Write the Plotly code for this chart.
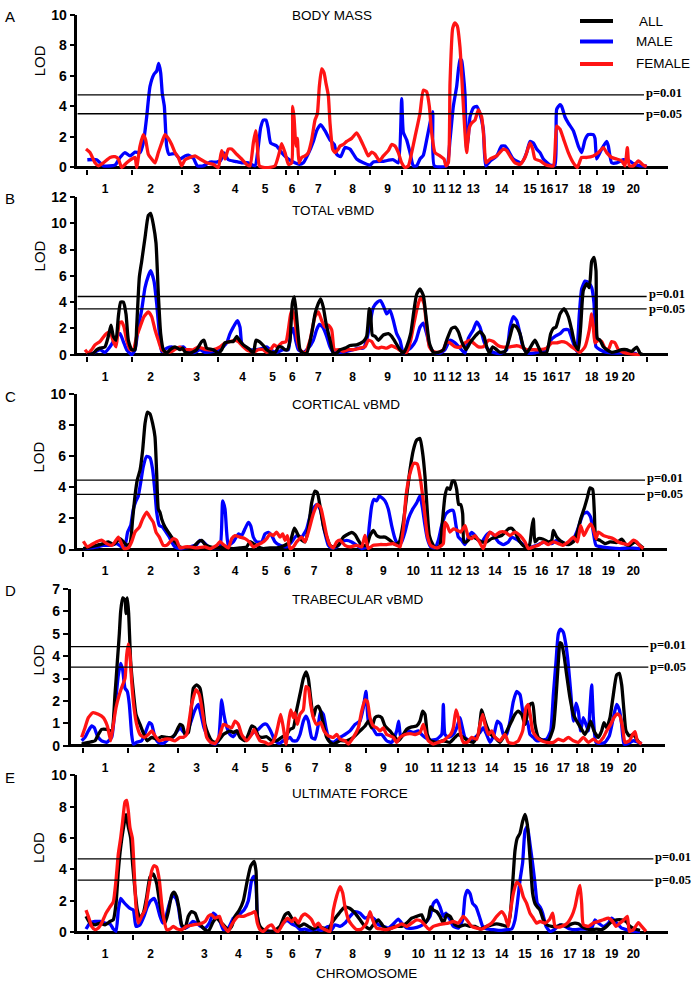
import plotly.graph_objects as go

# ---------------- DATA ----------------
# genome position (arbitrary cumulative units), LOD score
CHROM_LABELS = ["1","2","3","4","5","6","7","8","9","10","11","12","13","14","15","16","17","18","19","20"]

A_BOUNDS = [261,396,546,660,750,858,894,1005,1110,1206,1290,1344,1392,1458,1539,1614,1668,1740,1791,1869,1941]
A_LABEL_POS = [315,452,590,705,795,876,955,1058,1163,1257,1318,1365,1420,1505,1590,1640,1685,1755,1825,1900]
B_BOUNDS = [262,397,545,655,760,858,890,1000,1110,1205,1300,1345,1400,1457,1538,1612,1668,1740,1790,1868,1940]
B_LABEL_POS = [315,452,590,728,818,877,955,1058,1163,1260,1318,1365,1420,1505,1590,1648,1692,1775,1835,1885]
C_BOUNDS = [250,383,533,652,740,848,882,992,1100,1195,1285,1332,1392,1448,1528,1598,1657,1732,1777,1857,1930]
C_LABEL_POS = [315,452,590,705,795,862,942,1048,1150,1240,1310,1365,1418,1485,1560,1625,1688,1755,1825,1900]
D_BOUNDS = [250,383,533,652,735,845,880,990,1098,1195,1285,1330,1390,1445,1525,1595,1655,1730,1777,1855,1928]
D_LABEL_POS = [315,455,590,705,795,865,945,1045,1150,1235,1310,1360,1408,1475,1560,1625,1690,1748,1820,1890]
E_BOUNDS = [265,398,548,663,772,848,898,1003,1110,1208,1303,1350,1400,1455,1538,1615,1672,1742,1792,1868,1942]
E_LABEL_POS = [315,452,613,715,808,877,955,1058,1163,1255,1320,1375,1435,1505,1575,1640,1710,1765,1835,1900]

# significance thresholds [p=0.01, p=0.05]
A_THRESH = [4.74, 3.51]
B_THRESH = [4.43, 3.48]
C_THRESH = [4.46, 3.55]
D_THRESH = [4.42, 3.51]
E_THRESH = [4.67, 3.31]

A_MALE = [(262,0.5),(290,0.5),(310,0.1),(345,0.15),(360,0.65),(375,0.97),(390,0.75),(405,1.0),(420,0.97),(430,1.6),(440,3.3),(450,5.3),(462,6.1),(470,6.3),(476,6.8),(482,6.2),(487,4.8),(493,4.0),(500,1.4),(507,0.86),(525,0.9),(540,0.55),(555,0.75),(565,0.8),(580,0.6),(592,0.1),(610,0.1),(630,0.35),(650,0.35),(662,0.45),(672,0.95),(685,0.5),(705,0.4),(725,0.3),(745,0.3),(765,0.1),(775,1.4),(782,2.6),(790,3.1),(798,3.1),(804,2.6),(812,1.6),(830,1.4),(845,0.97),(862,0.6),(880,0.35),(898,0.2),(910,0.3),(925,0.9),(940,1.7),(950,2.4),(962,2.8),(975,2.4),(990,1.8),(1003,1.5),(1010,0.86),(1022,0.7),(1035,1.3),(1050,1.2),(1070,0.55),(1090,0.3),(1110,0.15),(1120,0.35),(1150,0.4),(1180,0.5),(1195,0.3),(1205,4.5),(1210,2.3),(1220,1.8),(1230,0.97),(1240,0.1),(1250,0.1),(1260,0.55),(1270,0.8),(1280,1.8),(1290,2.9),(1298,3.65),(1303,0.1),(1340,0.1),(1350,1.8),(1360,4.0),(1370,5.3),(1380,7.1),(1385,7.0),(1390,6.1),(1395,4.8),(1400,1.2),(1405,2.0),(1410,3.3),(1420,3.9),(1430,4.0),(1440,3.5),(1450,2.5),(1457,0.1),(1470,0.4),(1490,0.75),(1505,1.4),(1515,1.4),(1525,1.1),(1540,0.55),(1565,0.3),(1580,0.97),(1590,1.7),(1600,1.6),(1610,1.2),(1620,0.97),(1630,0.55),(1650,0.15),(1665,0.15),(1670,3.8),(1680,4.1),(1685,4.0),(1695,3.3),(1705,2.9),(1720,2.4),(1735,1.4),(1745,0.97),(1755,1.8),(1765,2.15),(1780,2.15),(1785,1.9),(1790,0.55),(1805,1.2),(1820,1.7),(1825,1.4),(1835,0.3),(1850,0.3),(1870,0.5),(1890,0.4),(1900,0.25),(1920,0.1),(1940,0.1)]

A_FEMALE = [(258,1.2),(270,0.97),(285,0.3),(295,0.1),(310,0.3),(330,0.65),(345,0.7),(355,0.55),(365,0.0),(380,0.3),(395,0.55),(405,0.65),(410,0.0),(420,1.4),(430,2.15),(437,1.8),(445,0.86),(455,0.55),(465,0.3),(475,0.97),(485,1.6),(495,2.15),(505,1.9),(515,1.5),(525,0.97),(535,0.65),(545,0.1),(555,0.5),(570,0.65),(585,0.75),(600,0.55),(620,0.3),(640,0.2),(655,0.0),(665,1.1),(675,0.55),(685,1.2),(695,1.2),(710,0.86),(725,0.55),(740,0.2),(750,0.1),(760,1.6),(767,2.4),(772,1.4),(778,0.1),(790,0.0),(810,0.0),(825,0.1),(838,0.97),(845,1.55),(855,0.97),(865,0.2),(875,0.3),(878,4.0),(882,3.3),(888,1.4),(892,1.9),(897,0.3),(905,0.65),(915,0.75),(925,0.97),(935,1.8),(945,3.1),(952,3.5),(958,5.3),(965,6.45),(972,6.2),(978,5.5),(985,4.7),(990,2.9),(998,1.2),(1005,0.97),(1015,1.2),(1020,1.4),(1030,1.5),(1040,1.7),(1055,1.9),(1070,2.26),(1080,1.9),(1095,1.2),(1105,0.75),(1115,1.0),(1125,0.86),(1138,0.43),(1150,0.75),(1165,1.1),(1175,1.5),(1185,1.4),(1195,0.97),(1205,0.3),(1215,0.0),(1225,0.1),(1235,0.97),(1245,2.0),(1260,3.55),(1270,5.05),(1280,4.95),(1288,4.0),(1295,2.26),(1305,0.97),(1320,0.75),(1332,0.55),(1338,0.1),(1345,0.3),(1350,5.5),(1358,9.1),(1365,9.46),(1372,9.25),(1380,7.85),(1388,4.84),(1395,2.26),(1400,0.97),(1408,2.6),(1415,2.9),(1425,3.1),(1435,3.76),(1445,3.3),(1452,1.8),(1458,0.3),(1470,0.55),(1490,0.75),(1510,1.2),(1520,1.1),(1530,0.75),(1545,0.3),(1560,0.2),(1575,0.65),(1590,1.6),(1598,1.2),(1605,0.55),(1620,0.43),(1640,0.15),(1660,0.1),(1670,2.7),(1680,2.5),(1690,1.9),(1705,0.97),(1720,0.3),(1732,0.0),(1745,0.65),(1760,0.65),(1780,0.75),(1795,0.97),(1810,1.3),(1820,0.97),(1835,0.65),(1850,0.55),(1865,0.43),(1875,0.1),(1882,1.3),(1888,0.1),(1900,0.1),(1915,0.43),(1930,0.15),(1940,0.05)]

B_ALL = [(262,0),(280,0.1),(290,0.38),(300,0.5),(315,0.6),(325,1.4),(333,2.25),(340,1.4),(348,1.1),(355,2.9),(362,4.0),(370,4.0),(378,3.1),(385,1.1),(395,0.38),(405,0.38),(410,2.1),(418,5.9),(425,7.1),(435,8.9),(445,10.6),(452,10.75),(460,9.9),(468,8.5),(475,4.6),(482,1.6),(490,0.38),(500,0.12),(510,0.38),(525,0.6),(540,0.38),(548,0.5),(555,0.2),(570,0.12),(590,0.38),(605,1.0),(612,1.1),(620,0.5),(640,0.38),(655,0.1),(665,0.38),(675,0.9),(690,1.0),(700,1.0),(710,1.4),(718,1.1),(730,0.75),(750,0.38),(760,0.1),(768,1.1),(778,1.0),(790,0.7),(800,0.38),(815,0.18),(825,0.12),(835,0.58),(845,0.58),(855,0.38),(862,0.38),(870,1.1),(877,3.9),(883,4.4),(889,3.1),(895,1.4),(900,0.38),(910,0.12),(920,0.1),(935,1.6),(945,3.1),(955,3.9),(962,4.25),(970,3.6),(978,2.4),(990,1.1),(1000,0.1),(1010,0.12),(1020,0.38),(1035,0.5),(1050,0.7),(1070,0.75),(1090,1.0),(1100,1.4),(1108,3.5),(1112,3.1),(1117,1.5),(1125,1.4),(1135,1.1),(1150,1.5),(1165,1.6),(1175,1.4),(1185,1.0),(1200,0.38),(1210,0.12),(1220,0.6),(1232,1.6),(1242,3.4),(1250,4.6),(1260,5.0),(1270,4.5),(1278,2.9),(1288,0.9),(1300,0.18),(1315,0.18),(1330,0.38),(1340,1.1),(1355,2.0),(1365,2.1),(1375,1.75),(1385,1.0),(1398,0.38),(1410,0.9),(1425,1.4),(1440,1.75),(1452,1.4),(1460,0.6),(1468,0.12),(1478,0.6),(1490,0.38),(1500,0.18),(1515,0.25),(1530,1.4),(1540,2.25),(1550,2.1),(1560,1.6),(1570,0.6),(1580,0.12),(1592,0.6),(1605,1.1),(1615,0.6),(1625,0.12),(1640,0.18),(1652,1.6),(1660,2.0),(1668,2.1),(1680,3.1),(1692,3.5),(1705,2.9),(1715,1.9),(1725,0.75),(1735,0.38),(1742,2.1),(1750,4.9),(1760,5.4),(1768,5.1),(1775,7.1),(1782,7.4),(1788,6.4),(1792,1.25),(1800,1.1),(1810,0.6),(1820,0.38),(1835,0.18),(1850,0.25),(1865,0.38),(1880,0.38),(1895,0.25),(1910,0.58),(1920,0.12),(1930,0.0)]

B_MALE = [(262,0),(280,0.12),(300,0.38),(315,0.18),(330,0.6),(350,1.4),(360,1.6),(370,1.0),(380,0.38),(395,0),(405,0.38),(415,2.1),(425,3.4),(435,5.1),(445,6.0),(452,6.4),(462,5.6),(470,3.9),(478,1.6),(485,0.25),(500,0.5),(515,0.6),(530,0.5),(550,0.6),(565,0.18),(585,0.18),(600,0.38),(615,0.18),(640,0.25),(660,0.38),(680,0.9),(690,1.6),(700,2.1),(712,2.6),(720,2.1),(725,0.9),(735,0.6),(750,0.38),(770,0.38),(790,0.5),(800,0.6),(810,0.38),(830,0.18),(850,0.38),(865,0.38),(872,1.6),(880,2.0),(887,1.1),(895,0.38),(910,0.18),(925,0.5),(940,1.1),(950,1.9),(958,2.3),(968,2.1),(980,1.4),(990,0.6),(1000,0.18),(1020,0.18),(1040,0.25),(1060,0.38),(1075,0.5),(1090,0.5),(1100,1.1),(1110,2.4),(1120,3.6),(1132,4.0),(1142,4.1),(1152,3.6),(1160,3.1),(1170,3.4),(1180,2.6),(1190,1.6),(1200,1.1),(1210,0.12),(1225,0.38),(1235,0.6),(1248,1.1),(1260,2.1),(1270,2.4),(1280,1.6),(1290,0.6),(1302,0.18),(1320,0.12),(1335,0.38),(1350,1.1),(1365,0.9),(1380,0.5),(1395,0.12),(1405,1.25),(1420,1.9),(1430,2.5),(1440,2.1),(1452,1.0),(1465,0.38),(1480,0.18),(1500,0.08),(1520,0.38),(1530,2.1),(1540,2.9),(1550,2.6),(1560,1.6),(1570,0.5),(1585,0.12),(1600,0.12),(1620,0.25),(1640,0.38),(1652,1.1),(1665,1.4),(1680,1.6),(1692,1.9),(1705,1.9),(1720,0.9),(1730,0.25),(1738,3.1),(1745,5.0),(1755,5.6),(1765,5.5),(1775,5.1),(1782,3.9),(1788,0.6),(1800,0.38),(1820,0.18),(1850,0.12),(1880,0.18),(1910,0.08)]

B_FEMALE = [(255,0.38),(265,0.12),(275,0.38),(285,0.75),(300,1.0),(315,1.5),(330,1.75),(340,1.0),(348,0.6),(358,2.4),(365,2.5),(372,2.1),(380,1.1),(390,0.38),(400,0.38),(410,1.4),(420,2.1),(432,2.9),(445,3.25),(455,2.9),(465,1.9),(475,1.1),(485,0.38),(500,0.18),(515,0.25),(530,0.5),(540,0.58),(550,0.38),(565,0.38),(580,0.38),(595,0.6),(605,0.5),(620,0.38),(640,0.38),(660,0.6),(675,0.9),(690,1.0),(705,1.1),(715,1.0),(730,0.6),(740,0.38),(760,0.18),(775,0.38),(790,0.38),(800,0.18),(812,0.38),(822,0.75),(832,0.6),(845,0.9),(858,1.0),(865,1.9),(872,3.1),(878,3.4),(885,2.6),(892,1.1),(900,0.38),(915,0.12),(930,1.1),(945,2.9),(955,3.25),(965,2.6),(975,2.1),(985,2.25),(995,1.9),(1003,0.38),(1015,0.38),(1030,0.25),(1045,0.38),(1060,0.38),(1080,0.5),(1095,0.6),(1105,1.1),(1115,1.0),(1125,0.6),(1135,0.5),(1145,0.58),(1160,0.5),(1175,0.68),(1190,0.5),(1205,0.25),(1220,0.18),(1232,1.1),(1242,2.4),(1252,3.6),(1262,4.4),(1272,3.9),(1280,2.1),(1288,0.6),(1300,0.25),(1315,0.18),(1330,0.38),(1340,1.0),(1350,0.9),(1365,0.6),(1380,0.58),(1395,0.9),(1410,1.1),(1420,0.9),(1435,0.6),(1450,0.6),(1465,1.1),(1480,1.0),(1495,0.68),(1510,0.58),(1530,0.6),(1550,0.68),(1565,0.58),(1580,0.38),(1600,0.38),(1620,0.38),(1640,0.5),(1655,0.9),(1670,0.9),(1685,1.0),(1700,0.9),(1715,0.6),(1728,0.38),(1740,0.18),(1755,0.6),(1768,1.9),(1775,3.1),(1780,2.1),(1785,0.9),(1795,1.1),(1805,1.0),(1815,0.5),(1825,0.38),(1835,1.0),(1845,0.9),(1855,0.38),(1870,0.18),(1890,0.08),(1920,0.0)]

C_ALL = [(250,0.06),(270,0.17),(290,0.27),(310,0.38),(325,0.49),(340,0.32),(350,0.5),(360,0.7),(370,0.5),(380,0.27),(390,0.38),(398,1.97),(405,3.45),(412,4.5),(420,5.1),(428,6.4),(435,8.1),(442,8.84),(450,8.73),(458,8.1),(465,7.25),(470,4.9),(475,2.6),(480,2.4),(485,1.97),(495,1.44),(505,1.12),(515,0.8),(525,0.49),(540,0.17),(560,0.1),(580,0.17),(595,0.5),(605,0.59),(615,0.32),(630,0.17),(650,0.1),(665,0.17),(680,0.1),(700,0.06),(720,0.1),(740,0.17),(750,0.5),(760,0.38),(775,0.17),(790,0.06),(810,0.1),(830,0.1),(850,0.23),(870,0.49),(883,1.37),(890,1.12),(900,0.7),(915,0.49),(925,1.33),(935,3.0),(945,3.76),(952,3.66),(960,2.8),(970,1.54),(980,0.8),(990,0.27),(1000,0.17),(1015,0.27),(1030,0.8),(1045,1.0),(1055,1.1),(1065,0.95),(1075,0.59),(1085,0.27),(1100,0.27),(1110,0.9),(1120,1.23),(1130,0.9),(1140,0.8),(1155,0.8),(1170,0.59),(1185,0.32),(1198,0.49),(1210,1.75),(1220,3.45),(1230,5.14),(1240,6.4),(1250,7.04),(1260,7.15),(1268,6.2),(1275,4.7),(1282,2.4),(1288,0.9),(1300,0.27),(1310,0.06),(1320,0.27),(1328,1.97),(1335,3.45),(1342,3.97),(1350,3.87),(1357,4.4),(1363,4.4),(1370,3.87),(1376,2.9),(1382,2.9),(1388,2.3),(1392,0.5),(1400,0.5),(1415,0.8),(1430,0.7),(1445,0.49),(1460,0.49),(1475,0.7),(1490,0.8),(1505,0.9),(1515,1.1),(1525,1.33),(1535,1.37),(1545,1.12),(1560,0.49),(1575,0.17),(1588,0.27),(1595,1.33),(1600,1.97),(1605,0.49),(1615,0.7),(1630,0.66),(1645,0.49),(1655,0.59),(1660,1.23),(1670,0.8),(1685,0.49),(1705,0.32),(1720,0.49),(1732,1.1),(1742,1.97),(1752,2.6),(1762,3.34),(1770,3.97),(1778,3.87),(1783,2.4),(1788,0.7),(1800,0.59),(1815,0.38),(1830,0.49),(1850,0.45),(1865,0.66),(1878,0.32),(1890,0.27),(1905,0.49),(1920,0.27),(1930,0.1)]

C_MALE = [(250,0.06),(270,0.1),(290,0.17),(310,0.27),(330,0.27),(350,0.38),(365,0.17),(375,0.27),(383,1.12),(392,1.54),(400,2.6),(408,3.13),(415,3.45),(422,4.3),(430,5.35),(440,6.0),(450,5.9),(458,5.14),(465,3.66),(470,2.4),(478,1.54),(488,1.44),(498,1.12),(508,0.8),(515,0.49),(525,0.17),(540,0.06),(560,0.1),(590,0.32),(600,0.59),(610,0.49),(625,0.17),(645,0.1),(660,0.17),(668,3.13),(675,2.6),(680,1.12),(685,0.27),(700,0.49),(715,1.0),(725,0.9),(735,1.33),(745,1.75),(752,1.54),(760,0.8),(770,0.49),(785,0.49),(795,1.0),(805,1.1),(815,0.9),(825,0.49),(840,0.27),(860,0.17),(875,0.49),(890,0.9),(905,0.8),(920,1.33),(932,2.3),(945,2.8),(952,2.9),(962,2.5),(972,1.33),(985,0.27),(995,0.1),(1010,0.17),(1025,0.49),(1040,0.59),(1055,0.49),(1070,0.27),(1085,0.06),(1100,0.17),(1108,1.54),(1115,2.8),(1122,3.23),(1130,3.13),(1138,3.45),(1145,3.34),(1155,3.13),(1165,2.6),(1175,1.54),(1185,0.7),(1195,0.27),(1205,0.49),(1215,1.12),(1225,1.97),(1238,2.6),(1250,3.0),(1260,3.45),(1268,2.6),(1275,1.54),(1282,0.7),(1292,0.17),(1305,0.1),(1315,0.59),(1325,1.54),(1338,2.3),(1350,2.5),(1360,2.5),(1368,1.54),(1375,0.8),(1385,0.59),(1395,0.32),(1405,0.8),(1415,1.1),(1425,0.9),(1435,0.59),(1445,0.49),(1458,0.9),(1470,1.1),(1480,0.95),(1495,0.49),(1510,0.32),(1525,0.49),(1535,0.8),(1545,0.7),(1560,0.49),(1575,0.23),(1595,0.17),(1615,0.32),(1635,0.49),(1655,0.38),(1670,0.59),(1685,0.49),(1700,0.32),(1715,0.49),(1730,1.12),(1740,1.75),(1750,2.3),(1762,2.4),(1772,2.07),(1780,1.12),(1788,0.27),(1805,0.17),(1830,0.1),(1860,0.06),(1890,0.1),(1920,0.06)]

C_FEMALE = [(250,0.53),(262,0.17),(275,0.32),(290,0.5),(305,0.6),(320,0.38),(335,0.27),(345,0.5),(355,0.8),(362,0.5),(372,0.06),(385,0.1),(395,0.5),(405,1.12),(418,1.44),(428,1.97),(440,2.4),(450,2.07),(460,1.75),(468,1.12),(478,0.8),(490,0.27),(500,0.27),(510,0.49),(520,0.7),(530,0.59),(540,0.1),(555,0.17),(570,0.17),(590,0.1),(615,0.17),(630,0.06),(650,0.27),(660,0.5),(670,0.32),(685,0.1),(695,0.7),(705,0.9),(720,0.8),(735,0.7),(748,0.49),(760,0.17),(775,0.32),(790,0.49),(800,0.7),(810,1.0),(820,0.9),(830,1.12),(840,0.8),(848,1.0),(855,0.59),(862,0.9),(870,0.06),(880,0.17),(890,0.49),(905,0.8),(915,0.49),(925,1.12),(940,2.3),(952,2.9),(962,2.7),(970,1.97),(980,0.9),(990,0.27),(1000,0.1),(1010,0.49),(1020,0.6),(1035,0.27),(1050,0.17),(1070,0.27),(1085,0.17),(1095,0.9),(1105,0.06),(1120,0.27),(1140,0.32),(1160,0.32),(1180,0.38),(1190,0.27),(1200,0.17),(1210,1.33),(1218,3.45),(1230,4.9),(1242,5.56),(1252,5.5),(1260,4.7),(1268,3.45),(1276,1.97),(1282,0.9),(1292,0.27),(1310,0.1),(1325,0.27),(1330,0.38),(1335,1.75),(1342,1.54),(1350,1.12),(1360,1.33),(1372,1.23),(1382,1.12),(1395,1.54),(1405,0.8),(1415,0.7),(1425,0.9),(1438,0.49),(1450,0.06),(1460,0.7),(1470,1.12),(1485,0.9),(1500,1.12),(1515,1.12),(1530,0.9),(1545,1.12),(1560,0.9),(1575,0.49),(1585,0.06),(1600,0.17),(1615,0.27),(1630,0.49),(1645,0.32),(1660,0.49),(1675,0.38),(1688,0.27),(1705,0.49),(1720,0.8),(1732,0.49),(1742,1.54),(1752,0.9),(1762,1.33),(1772,1.65),(1780,1.33),(1788,0.7),(1795,1.12),(1810,0.9),(1825,0.8),(1840,0.7),(1855,0.49),(1870,0.38),(1885,0.32),(1900,0.6),(1910,0.49),(1920,0.23),(1930,0.06)]

D_ALL = [(245,0.07),(265,0.15),(285,0.22),(295,0.5),(305,0.73),(320,0.73),(335,0.66),(345,2.3),(352,3.75),(358,5.0),(362,6.0),(368,6.6),(375,6.5),(378,5.9),(382,6.6),(386,5.9),(392,3.75),(400,2.42),(408,1.4),(420,0.95),(432,0.5),(442,0.22),(455,0.37),(470,0.29),(485,0.4),(500,0.37),(515,0.37),(525,0.5),(540,0.95),(548,0.88),(555,0.5),(565,0.59),(572,1.25),(580,2.57),(590,2.72),(600,2.57),(608,1.84),(615,0.95),(625,0.5),(635,0.22),(645,0.15),(655,0.22),(670,0.5),(680,0.59),(690,0.66),(700,0.59),(710,0.66),(720,0.37),(735,0.22),(745,0.5),(755,0.88),(765,0.8),(775,0.44),(785,0.37),(800,0.4),(815,0.22),(830,0.22),(845,0.37),(860,0.5),(870,0.73),(880,0.8),(890,1.6),(900,2.3),(910,3.0),(918,3.3),(925,3.0),(932,2.13),(940,1.25),(948,1.7),(955,1.76),(962,1.54),(970,0.95),(980,0.37),(990,0.15),(1000,0.07),(1020,0.22),(1040,0.22),(1060,0.37),(1080,0.66),(1095,0.88),(1105,1.1),(1115,0.8),(1125,1.25),(1135,1.32),(1145,1.25),(1155,0.88),(1170,0.66),(1185,0.37),(1195,0.22),(1210,0.5),(1220,0.73),(1235,0.84),(1250,0.88),(1260,1.1),(1268,1.54),(1275,1.4),(1282,0.5),(1292,0.22),(1310,0.15),(1330,0.22),(1350,0.15),(1365,0.37),(1375,0.5),(1390,0.37),(1405,0.22),(1420,0.15),(1435,0.5),(1445,1.6),(1452,1.25),(1460,0.88),(1472,0.5),(1485,0.37),(1500,0.15),(1515,0.5),(1525,0.8),(1535,1.1),(1545,1.4),(1555,1.54),(1565,1.4),(1575,0.95),(1582,1.4),(1590,1.84),(1598,1.9),(1605,0.95),(1615,0.37),(1630,0.22),(1645,0.22),(1660,0.8),(1668,2.13),(1675,3.75),(1680,4.6),(1685,4.55),(1692,4.04),(1700,3.16),(1710,2.13),(1720,1.4),(1730,1.1),(1742,0.8),(1755,0.5),(1765,0.8),(1772,1.1),(1782,0.66),(1795,0.37),(1805,0.66),(1812,1.03),(1820,0.8),(1830,1.25),(1840,2.28),(1850,3.16),(1858,3.23),(1865,2.72),(1872,1.54),(1878,0.66),(1888,0.44),(1900,0.5),(1910,0.29),(1920,0.1)]

D_MALE = [(245,0.22),(255,0.37),(265,0.66),(275,0.88),(283,0.8),(292,0.44),(305,0.22),(320,0.15),(335,0.37),(345,1.7),(355,3.16),(362,3.67),(368,3.38),(375,2.57),(382,2.42),(388,1.84),(395,0.5),(400,0.07),(410,0.15),(425,0.22),(438,0.66),(448,1.03),(455,0.95),(465,0.37),(475,0.15),(490,0.1),(505,0.29),(520,0.4),(532,0.66),(540,0.8),(548,0.66),(558,0.5),(570,0.95),(585,1.6),(595,1.84),(605,1.25),(612,0.8),(622,0.44),(632,0.15),(645,0.07),(655,0.22),(665,2.05),(670,1.54),(678,0.95),(690,0.5),(700,0.4),(712,0.66),(722,0.5),(735,0.29),(750,0.44),(760,0.59),(775,0.73),(790,0.95),(800,0.95),(812,0.66),(825,0.22),(838,0.1),(850,0.22),(860,0.29),(870,0.37),(878,0.22),(890,0.22),(900,0.5),(910,1.1),(918,1.32),(925,1.1),(935,0.37),(945,0.29),(955,0.95),(962,1.54),(970,1.4),(978,0.8),(988,0.22),(1000,0.15),(1020,0.37),(1035,0.5),(1050,0.66),(1065,0.95),(1080,1.1),(1090,1.7),(1098,2.42),(1105,1.1),(1115,0.88),(1130,0.5),(1145,0.5),(1160,0.22),(1175,0.15),(1190,0.66),(1196,1.1),(1202,0.37),(1210,0.5),(1225,0.66),(1240,0.59),(1255,0.66),(1265,0.5),(1275,0.37),(1290,0.25),(1310,0.29),(1325,0.5),(1330,1.84),(1335,0.5),(1345,0.37),(1360,0.5),(1370,0.8),(1380,1.25),(1386,0.88),(1395,0.37),(1410,0.22),(1425,0.37),(1440,0.59),(1450,0.8),(1460,0.5),(1470,0.15),(1482,0.5),(1492,1.1),(1502,0.95),(1510,0.5),(1520,0.5),(1530,1.1),(1540,1.98),(1550,2.42),(1560,2.28),(1568,1.54),(1575,0.95),(1582,1.1),(1590,0.5),(1600,0.37),(1610,0.22),(1625,0.25),(1640,0.29),(1652,0.66),(1660,2.28),(1668,3.75),(1675,5.0),(1682,5.2),(1690,5.07),(1698,4.48),(1705,3.6),(1712,2.42),(1720,1.1),(1728,1.9),(1735,1.54),(1742,0.66),(1750,1.25),(1758,0.95),(1765,0.66),(1770,1.7),(1775,2.72),(1780,1.25),(1788,0.15),(1800,0.1),(1815,0.15),(1828,0.44),(1840,1.25),(1850,1.84),(1858,1.6),(1865,0.95),(1872,0.07),(1885,0.1),(1900,0.22),(1915,0.15),(1925,0.1)]

D_FEMALE = [(245,0.37),(255,0.8),(265,1.25),(278,1.47),(295,1.4),(310,1.25),(322,0.88),(332,0.22),(340,0.95),(348,1.7),(358,2.28),(368,2.72),(375,3.0),(380,4.04),(385,4.55),(390,4.04),(395,2.86),(402,1.7),(410,0.95),(420,0.5),(432,0.37),(445,0.5),(455,0.66),(465,0.44),(478,0.22),(495,0.29),(510,0.29),(525,0.22),(540,0.37),(550,0.37),(560,0.5),(575,1.84),(588,2.5),(598,2.28),(610,1.25),(620,0.37),(632,0.15),(645,0.1),(660,0.5),(670,0.95),(682,0.88),(695,0.8),(705,1.1),(715,0.95),(725,0.5),(740,0.22),(755,0.5),(762,0.73),(770,0.5),(780,0.22),(795,0.15),(805,0.07),(818,0.15),(828,0.5),(835,0.95),(842,1.4),(850,0.8),(858,0.07),(865,0.95),(872,1.6),(880,1.25),(885,1.47),(892,0.95),(900,1.4),(910,1.6),(918,2.64),(925,2.57),(932,1.84),(940,1.25),(950,0.95),(962,1.03),(972,0.66),(985,0.44),(1000,0.37),(1010,0.5),(1020,0.29),(1035,0.22),(1045,0.07),(1060,0.37),(1075,0.8),(1085,1.54),(1095,2.05),(1102,1.98),(1110,1.25),(1120,0.88),(1130,0.8),(1140,0.66),(1150,0.8),(1160,0.5),(1170,0.44),(1180,0.37),(1190,0.15),(1200,0.37),(1215,0.5),(1230,0.54),(1245,0.5),(1260,0.59),(1270,0.95),(1278,0.5),(1285,0.22),(1300,0.07),(1315,0.15),(1330,0.22),(1342,0.37),(1352,0.5),(1360,0.8),(1368,1.6),(1375,1.25),(1382,0.5),(1390,0.15),(1402,0.15),(1415,0.37),(1430,0.29),(1440,0.95),(1448,1.4),(1455,0.95),(1465,0.5),(1475,0.66),(1485,0.37),(1500,0.22),(1515,0.5),(1525,0.15),(1540,0.1),(1555,0.22),(1568,0.66),(1578,1.7),(1585,1.84),(1592,1.25),(1598,0.66),(1610,0.37),(1625,0.22),(1640,0.15),(1660,0.15),(1675,0.29),(1690,0.22),(1705,0.37),(1720,0.22),(1735,0.15),(1750,0.37),(1765,0.15),(1780,0.29),(1795,0.15),(1810,0.37),(1820,0.66),(1832,0.95),(1842,1.25),(1852,1.42),(1860,1.32),(1868,0.8),(1875,0.15),(1888,0.22),(1898,0.5),(1905,0.63),(1912,0.22),(1925,0.07)]

E_ALL = [(258,1.0),(270,0.57),(285,0.46),(300,0.57),(315,0.46),(330,0.67),(340,0.78),(348,1.8),(355,3.9),(362,5.4),(370,6.6),(378,7.5),(385,6.7),(392,6.0),(398,4.3),(405,2.66),(412,1.4),(420,0.88),(430,1.2),(440,2.24),(450,3.5),(460,3.7),(470,3.1),(478,2.0),(485,1.2),(495,0.57),(505,1.3),(515,2.35),(522,2.55),(530,2.24),(538,1.4),(545,0.46),(555,0.25),(565,1.0),(575,1.3),(585,1.2),(595,0.67),(605,0.36),(615,0.15),(625,0.04),(640,0.67),(650,0.88),(660,0.67),(670,0.46),(685,0.15),(695,0.36),(705,1.0),(718,1.4),(730,2.0),(742,3.3),(752,4.2),(762,4.5),(768,3.9),(772,1.0),(780,0.36),(790,0.15),(800,0.08),(820,0.04),(840,0.36),(855,1.1),(865,1.24),(875,0.88),(885,0.67),(898,0.36),(912,0.52),(925,0.36),(940,0.19),(955,0.36),(970,0.25),(985,0.1),(995,0.57),(1010,1.0),(1025,1.4),(1035,1.6),(1050,1.5),(1065,1.2),(1080,0.78),(1095,0.36),(1110,0.19),(1120,0.46),(1135,0.78),(1150,0.36),(1165,0.15),(1185,0.36),(1205,0.36),(1220,0.57),(1235,0.88),(1250,1.0),(1265,1.1),(1275,0.57),(1285,0.88),(1292,1.6),(1300,1.4),(1310,1.3),(1320,1.0),(1330,0.57),(1340,1.1),(1350,1.0),(1365,0.46),(1380,0.36),(1395,0.46),(1410,0.36),(1425,0.36),(1440,0.19),(1460,0.36),(1475,0.46),(1490,0.52),(1505,0.46),(1520,0.36),(1530,1.0),(1538,3.1),(1545,5.2),(1552,6.0),(1560,6.3),(1568,7.07),(1575,7.5),(1582,6.86),(1590,4.76),(1598,2.45),(1605,1.82),(1612,1.6),(1620,1.4),(1630,0.78),(1640,0.46),(1655,0.36),(1670,0.36),(1685,0.46),(1700,0.36),(1715,0.52),(1725,0.57),(1735,0.52),(1745,0.36),(1760,0.19),(1775,0.15),(1790,0.19),(1805,0.15),(1820,0.36),(1835,0.67),(1850,0.78),(1865,0.78),(1878,0.67),(1890,0.36),(1905,0.19),(1920,0.1)]

E_MALE = [(258,0.19),(270,0.57),(285,0.67),(300,0.67),(315,0.57),(330,0.52),(340,0.19),(348,0.04),(355,1.4),(362,2.14),(370,1.93),(380,1.7),(390,1.5),(400,1.4),(408,0.36),(420,0.46),(432,1.0),(442,1.6),(452,2.0),(462,2.14),(470,1.8),(480,1.0),(488,0.57),(498,1.0),(508,1.8),(518,2.35),(528,2.14),(535,1.6),(545,0.36),(555,0.25),(565,0.36),(578,0.67),(590,0.57),(602,0.36),(615,0.25),(628,0.57),(640,1.2),(650,1.0),(660,0.67),(670,0.15),(685,0.25),(700,0.88),(712,1.0),(722,1.2),(732,1.4),(745,2.0),(755,3.3),(762,3.55),(768,3.0),(772,1.0),(780,0.25),(795,0.1),(815,0.04),(835,0.19),(850,0.57),(862,0.74),(875,0.52),(890,0.36),(900,0.15),(915,0.19),(930,0.1),(950,0.19),(965,0.1),(985,0.36),(995,0.15),(1005,0.46),(1020,0.36),(1035,0.57),(1050,1.0),(1065,1.3),(1080,1.2),(1095,0.88),(1110,1.0),(1125,0.78),(1135,0.46),(1150,0.36),(1165,0.25),(1180,0.52),(1195,0.82),(1205,0.57),(1220,0.25),(1240,0.25),(1260,0.36),(1275,0.57),(1290,1.0),(1300,1.82),(1310,2.03),(1320,1.6),(1330,1.0),(1338,1.2),(1350,0.78),(1360,0.36),(1375,0.25),(1388,0.78),(1395,2.24),(1402,2.66),(1410,2.45),(1418,1.82),(1428,1.6),(1438,1.0),(1448,0.36),(1460,0.19),(1480,0.15),(1500,0.1),(1520,0.15),(1535,0.19),(1545,0.78),(1552,1.82),(1560,3.3),(1568,4.44),(1575,6.44),(1582,6.75),(1590,5.6),(1598,4.34),(1605,3.1),(1612,1.82),(1620,1.6),(1628,1.2),(1638,0.36),(1650,0.04),(1665,0.19),(1680,0.46),(1695,0.36),(1710,0.19),(1725,0.15),(1740,0.19),(1760,0.19),(1775,0.25),(1785,0.78),(1795,0.57),(1810,0.36),(1825,0.57),(1835,0.88),(1850,0.57),(1865,0.25),(1880,0.15),(1895,0.04),(1920,0.0)]

E_FEMALE = [(258,1.4),(265,1.0),(275,0.36),(285,0.15),(295,0.25),(305,0.57),(318,1.2),(330,1.6),(340,1.93),(348,3.3),(355,5.0),(362,6.0),(368,7.07),(375,8.3),(380,8.4),(385,7.7),(390,6.65),(397,6.0),(402,4.13),(408,1.6),(415,0.57),(425,1.0),(435,1.4),(445,2.66),(455,3.9),(462,4.23),(470,4.13),(478,3.3),(485,1.82),(492,0.78),(500,0.15),(510,0.19),(520,0.36),(532,0.19),(545,0.15),(560,0.36),(580,0.46),(600,0.52),(615,0.67),(625,1.0),(635,1.1),(645,0.88),(658,1.0),(665,0.57),(675,0.25),(685,0.04),(695,0.46),(705,0.78),(715,1.0),(730,1.0),(742,1.1),(755,1.2),(765,1.3),(772,0.57),(780,0.15),(790,0.04),(805,0.36),(815,0.46),(825,0.15),(835,0.04),(850,0.57),(862,0.88),(875,0.67),(885,0.88),(895,0.57),(905,1.0),(915,1.15),(925,1.0),(935,0.78),(945,0.36),(955,0.57),(965,0.25),(975,0.15),(990,0.04),(1000,1.4),(1010,2.3),(1020,2.9),(1028,2.5),(1035,1.6),(1045,0.8),(1055,0.46),(1070,0.15),(1085,0.19),(1100,0.57),(1110,1.3),(1118,0.78),(1130,0.25),(1145,0.19),(1160,0.15),(1175,0.25),(1190,0.36),(1205,0.52),(1220,0.36),(1235,0.57),(1250,0.78),(1265,0.67),(1278,0.36),(1288,0.15),(1300,0.36),(1315,0.46),(1330,0.52),(1345,0.57),(1360,0.67),(1375,0.57),(1390,1.0),(1400,0.78),(1415,0.36),(1430,0.25),(1445,0.19),(1460,0.36),(1475,0.57),(1490,1.0),(1505,1.3),(1515,1.0),(1525,0.36),(1532,1.4),(1540,2.45),(1550,3.19),(1560,2.98),(1570,2.24),(1580,1.82),(1590,1.2),(1600,0.88),(1610,0.57),(1620,0.67),(1635,0.57),(1648,0.78),(1658,1.2),(1665,0.36),(1675,0.31),(1685,0.36),(1700,0.52),(1715,1.0),(1725,1.6),(1735,2.66),(1740,2.98),(1745,1.82),(1750,0.46),(1765,0.36),(1780,0.57),(1795,0.67),(1810,0.78),(1825,0.88),(1838,0.67),(1848,0.36),(1860,0.57),(1872,0.78),(1882,1.0),(1888,0.04),(1900,0.15),(1915,0.6),(1925,0.36),(1938,0.04)]

# ---------------- LAYOUT ----------------
W, H = 694, 987
PX_PER_UNIT = 1 / 3.0
COLORS = {"ALL": "#000000", "MALE": "#0000ff", "FEMALE": "#ff1414"}
SANS = "Liberation Sans, Arial, sans-serif"
SERIF = "Liberation Serif, Times New Roman, serif"

panels = [
    dict(letter="A", title="BODY MASS", ymax=10, dtick=2, zero_px=161.7, top_px=6.7,
         x0=232, x1=2005, thr=A_THRESH, thr_end=1932, bounds=A_BOUNDS, labpos=A_LABEL_POS,
         series=[("MALE", A_MALE), ("FEMALE", A_FEMALE)], title_y=8, lod_y=54),
    dict(letter="B", title="TOTAL vBMD", ymax=12, dtick=2, zero_px=351.7, top_px=191.7,
         x0=232, x1=2005, thr=B_THRESH, thr_end=1940, bounds=B_BOUNDS, labpos=B_LABEL_POS,
         series=[("MALE", B_MALE), ("FEMALE", B_FEMALE), ("ALL", B_ALL)], title_y=205, lod_y=252),
    dict(letter="C", title="CORTICAL vBMD", ymax=10, dtick=2, zero_px=549.3, top_px=391.7,
         x0=230, x1=2000, thr=C_THRESH, thr_end=1935, bounds=C_BOUNDS, labpos=C_LABEL_POS,
         series=[("MALE", C_MALE), ("ALL", C_ALL), ("FEMALE", C_FEMALE)], title_y=402.7, lod_y=456),
    dict(letter="D", title="TRABECULAR vBMD", ymax=7, dtick=1, zero_px=748.3, top_px=589.3,
         x0=212, x1=1995, thr=D_THRESH, thr_end=1945, bounds=D_BOUNDS, labpos=D_LABEL_POS,
         series=[("MALE", D_MALE), ("ALL", D_ALL), ("FEMALE", D_FEMALE)], title_y=600, lod_y=662),
    dict(letter="E", title="ULTIMATE FORCE", ymax=10, dtick=2, zero_px=937.3, top_px=778.3,
         x0=232, x1=2005, thr=E_THRESH, thr_end=1960, bounds=E_BOUNDS, labpos=E_LABEL_POS,
         series=[("MALE", E_MALE), ("ALL", E_ALL), ("FEMALE", E_FEMALE)], title_y=796.7, lod_y=852),
]

def px_to_paper_x(px):
    return px / W

def px_to_paper_y(px):
    return 1 - px / H

fig = go.Figure()
annotations = []
shapes = []
layout_axes = {}

for i, p in enumerate(panels, start=1):
    xa = "x" if i == 1 else f"x{i}"
    ya = "y" if i == 1 else f"y{i}"
    ppu = (p["zero_px"] - p["top_px"]) / p["ymax"]
    pad_px = 1.6
    ydom = [px_to_paper_y(p["zero_px"] + pad_px), px_to_paper_y(p["top_px"])]
    xdom = [px_to_paper_x(p["x0"] * PX_PER_UNIT), px_to_paper_x(p["x1"] * PX_PER_UNIT)]

    for name, pts in p["series"]:
        xs = [a for a, b in pts]
        ys = [b for a, b in pts]
        fig.add_trace(go.Scatter(x=xs, y=ys, mode="lines", name=name, showlegend=False,
                                 line=dict(color=COLORS[name], width=3.3, shape="spline", smoothing=0.5),
                                 xaxis=xa, yaxis=ya, hoverinfo="skip"))

    layout_axes["xaxis" if i == 1 else f"xaxis{i}"] = dict(
        domain=xdom, range=[p["x0"], p["x1"]], anchor=ya, showgrid=False, zeroline=False,
        showline=False, tickmode="array", tickvals=p["labpos"], ticktext=CHROM_LABELS,
        tickangle=0, ticks="outside", ticklen=9, tickcolor="rgba(0,0,0,0)",
        tickfont=dict(family=SANS, size=12, color="black", weight="bold"),
        minor=dict(tickmode="array", tickvals=p["bounds"], ticks="outside", ticklen=5,
                   tickwidth=1.5, tickcolor="black", showgrid=False),
        fixedrange=True)
    layout_axes["yaxis" if i == 1 else f"yaxis{i}"] = dict(
        domain=ydom, range=[-pad_px / ppu, p["ymax"]], anchor=xa, showgrid=False,
        zeroline=True, zerolinewidth=3, zerolinecolor="black",
        showline=True, linewidth=2.5, linecolor="black",
        tickmode="linear", tick0=0, dtick=p["dtick"], ticks="outside", ticklen=5, tickwidth=2,
        tickcolor="black", tickfont=dict(family=SANS, size=14, color="black", weight="bold"),
        fixedrange=True)

    # threshold lines + labels
    for val, lab, ysh in zip(p["thr"], ["p=0.01", "p=0.05"], [2, 0]):
        shapes.append(dict(type="line", xref=xa, yref=ya, x0=p["x0"], x1=p["thr_end"], y0=val, y1=val,
                           line=dict(color="black", width=1.3)))
        annotations.append(dict(xref="paper", yref=ya, x=px_to_paper_x(p["thr_end"] * PX_PER_UNIT),
                                y=val, text=lab, showarrow=False,
                                xanchor="left", yanchor="middle", yshift=ysh,
                                font=dict(family=SERIF, size=12.5, color="black", weight="bold")))
    # panel letter
    annotations.append(dict(xref="paper", yref="paper", x=px_to_paper_x(3), y=px_to_paper_y(p["top_px"] + 2),
                            text=p["letter"], showarrow=False, xanchor="left", yanchor="middle",
                            font=dict(family=SANS, size=15, color="black")))
    # LOD label
    annotations.append(dict(xref="paper", yref="paper", x=px_to_paper_x(39), y=px_to_paper_y(p["lod_y"]),
                            text="LOD", showarrow=False, textangle=-90, xanchor="center", yanchor="middle",
                            font=dict(family=SANS, size=15, color="black")))
    # panel title
    annotations.append(dict(xref="paper", yref="paper", x=px_to_paper_x(290), y=px_to_paper_y(p["title_y"]),
                            text=p["title"], showarrow=False, xanchor="left", yanchor="middle",
                            font=dict(family=SANS, size=13.5, color="black")))

# legend (drawn manually in panel A)
legend_items = [("ALL", 13.3, 637), ("MALE", 34.0, 634), ("FEMALE", 56.7, 634)]
for name, ypx, txpx in legend_items:
    shapes.append(dict(type="line", xref="paper", yref="paper",
                       x0=px_to_paper_x(580), x1=px_to_paper_x(613),
                       y0=px_to_paper_y(ypx), y1=px_to_paper_y(ypx),
                       line=dict(color=COLORS[name], width=4)))
    annotations.append(dict(xref="paper", yref="paper", x=px_to_paper_x(txpx), y=px_to_paper_y(ypx),
                            text=name, showarrow=False, xanchor="left", yanchor="middle",
                            font=dict(family=SANS, size=13.5, color="black")))

annotations.append(dict(xref="paper", yref="paper", x=px_to_paper_x(366), y=px_to_paper_y(979),
                        text="CHROMOSOME", showarrow=False, xanchor="center", yanchor="middle",
                        font=dict(family=SANS, size=13.5, color="black")))

fig.update_layout(width=W, height=H, margin=dict(l=0, r=0, t=0, b=0),
                  paper_bgcolor="white", plot_bgcolor="white",
                  annotations=annotations, shapes=shapes, showlegend=False, **layout_axes)

fig.write_html("out.html", config={"displayModeBar": False},
               post_script="document.body.style.margin='0px';document.body.style.overflow='hidden';")
